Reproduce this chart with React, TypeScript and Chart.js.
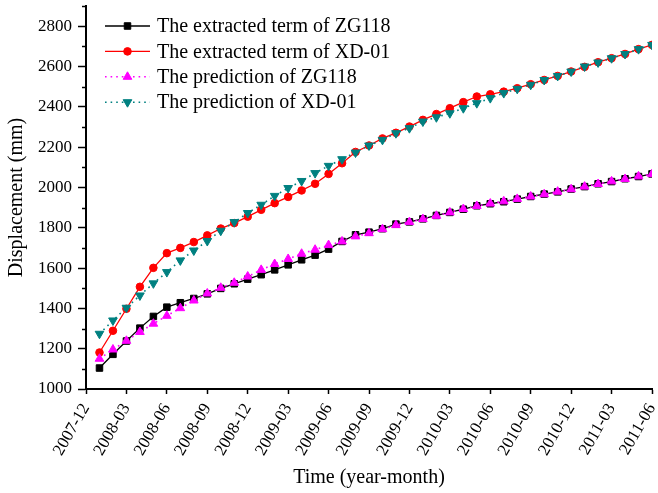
import React, { useEffect, useRef } from "react";
import { Chart, registerables } from "chart.js";

Chart.register(...registerables);

// Tick labels every 3 months, starting 2007-12 (x = 0)
const tickLabels = [
  "2007-12", "2008-03", "2008-06", "2008-09", "2008-12", "2009-03", "2009-06", "2009-09",
  "2009-12", "2010-03", "2010-06", "2010-09", "2010-12", "2011-03", "2011-06",
];

// Monthly observations 2008-01 .. 2011-06 (x = 1 .. 42)
const months = [
  "2008-01", "2008-02", "2008-03", "2008-04", "2008-05", "2008-06", "2008-07", "2008-08", "2008-09", "2008-10", "2008-11", "2008-12",
  "2009-01", "2009-02", "2009-03", "2009-04", "2009-05", "2009-06", "2009-07", "2009-08", "2009-09", "2009-10", "2009-11", "2009-12",
  "2010-01", "2010-02", "2010-03", "2010-04", "2010-05", "2010-06", "2010-07", "2010-08", "2010-09", "2010-10", "2010-11", "2010-12",
  "2011-01", "2011-02", "2011-03", "2011-04", "2011-05", "2011-06",
];

const extractedZG118 = [
  1104, 1172, 1238, 1302, 1360, 1406, 1428, 1449, 1472, 1499, 1522, 1545,
  1567, 1591, 1616, 1641, 1664, 1694, 1732, 1765, 1778, 1795, 1818, 1829,
  1844, 1861, 1876, 1892, 1909, 1919, 1929, 1942, 1955, 1967, 1978, 1992,
  2004, 2018, 2029, 2043, 2054, 2067,
];

const extractedXD01 = [
  1181, 1289, 1398, 1507, 1601, 1674, 1700, 1729, 1762, 1796, 1823, 1855,
  1889, 1922, 1953, 1985, 2018, 2067, 2120, 2176, 2208, 2243, 2271, 2302,
  2335, 2364, 2393, 2423, 2451, 2462, 2475, 2492, 2512, 2533, 2553, 2575,
  2598, 2621, 2641, 2662, 2686, 2707,
];

const predictionZG118 = [
  1150, 1196, 1239, 1283, 1324, 1363, 1401, 1439, 1474, 1502, 1527, 1558,
  1591, 1620, 1645, 1671, 1691, 1714, 1732, 1757, 1773, 1793, 1813, 1828,
  1843, 1859, 1876, 1893, 1908, 1920, 1931, 1943, 1955, 1966, 1979, 1991,
  2004, 2017, 2030, 2042, 2055, 2066,
];

const predictionXD01 = [
  1274, 1340, 1403, 1464, 1524, 1580, 1638, 1687, 1734, 1785, 1828, 1873,
  1914, 1958, 1997, 2032, 2071, 2107, 2140, 2173, 2208, 2236, 2269, 2294,
  2327, 2348, 2368, 2393, 2418, 2443, 2468, 2489, 2509, 2533, 2553, 2575,
  2600, 2620, 2641, 2662, 2686, 2707,
];

const seriesNames = [
  "The extracted term of ZG118",
  "The extracted term of XD-01",
  "The prediction of ZG118",
  "The prediction of XD-01",
];

const FONT = "'Liberation Serif', 'Times New Roman', serif";

function toPoints(values: number[]) {
  return values.map((v, i) => ({ x: months.indexOf(months[i]) + 1, y: v }));
}

function drawMarker(
  ctx: CanvasRenderingContext2D,
  style: string,
  x: number,
  y: number,
  r: number,
  rotation: number,
  color: string
) {
  ctx.save();
  ctx.fillStyle = color;
  ctx.strokeStyle = color;
  ctx.lineWidth = 1;
  ctx.setLineDash([]);
  ctx.beginPath();
  if (style === "rect") {
    const s = Math.SQRT1_2 * r;
    ctx.rect(x - s, y - s, 2 * s, 2 * s);
  } else if (style === "circle") {
    ctx.arc(x, y, r, 0, Math.PI * 2);
  } else if (style === "triangle") {
    let rad = (rotation * Math.PI) / 180;
    ctx.moveTo(x + Math.sin(rad) * r, y - Math.cos(rad) * r);
    rad += (2 * Math.PI) / 3;
    ctx.lineTo(x + Math.sin(rad) * r, y - Math.cos(rad) * r);
    rad += (2 * Math.PI) / 3;
    ctx.lineTo(x + Math.sin(rad) * r, y - Math.cos(rad) * r);
    ctx.closePath();
  }
  ctx.fill();
  ctx.stroke();
  ctx.restore();
}

const legendPlugin = {
  id: "customLegend",
  afterDraw(chart: any) {
    const ctx: CanvasRenderingContext2D = chart.ctx;
    const left = 105;
    const top = 26;
    const rowH = 25.4;
    const lineLen = 45;
    ctx.save();
    chart.data.datasets.forEach((ds: any, i: number) => {
      const y = top + i * rowH;
      ctx.strokeStyle = ds.borderColor;
      ctx.lineWidth = ds.borderWidth;
      ctx.setLineDash(ds.borderDash || []);
      ctx.beginPath();
      ctx.moveTo(left, y);
      ctx.lineTo(left + lineLen, y);
      ctx.stroke();
      ctx.setLineDash([]);
      drawMarker(ctx, ds.pointStyle, left + lineLen / 2, y, ds.pointRadius, ds.pointRotation || 0, ds.backgroundColor);
      ctx.fillStyle = "#000";
      ctx.font = `20px ${FONT}`;
      ctx.textAlign = "left";
      ctx.textBaseline = "middle";
      ctx.fillText(ds.label, left + lineLen + 7, y + 1);
    });
    ctx.restore();
  },
};

const minorTickPlugin = {
  id: "minorTicks",
  afterDraw(chart: any) {
    const ctx: CanvasRenderingContext2D = chart.ctx;
    const y = chart.scales.y;
    const left = chart.chartArea.left;
    ctx.save();
    ctx.strokeStyle = "#000";
    ctx.lineWidth = 1.5;
    for (let v = 1100; v <= 2900; v += 200) {
      const py = Math.round(y.getPixelForValue(v)) + 0.5;
      ctx.beginPath();
      ctx.moveTo(left - 4, py);
      ctx.lineTo(left, py);
      ctx.stroke();
    }
    ctx.restore();
  },
};

export default function App() {
  const canvasRef = useRef<HTMLCanvasElement | null>(null);

  useEffect(() => {
    if (!canvasRef.current) return;
    Chart.defaults.font.family = FONT;
    Chart.defaults.color = "#000";
    const chart = new Chart(canvasRef.current, {
      type: "line",
      data: {
        datasets: [
          {
            label: seriesNames[0],
            data: toPoints(extractedZG118),
            borderColor: "#000000",
            backgroundColor: "#000000",
            borderWidth: 1.3,
            pointStyle: "rect",
            pointRadius: 4.6,
            pointBorderWidth: 1,
            order: 3,
          },
          {
            label: seriesNames[1],
            data: toPoints(extractedXD01),
            borderColor: "#FF0000",
            backgroundColor: "#FF0000",
            borderWidth: 1.3,
            pointStyle: "circle",
            pointRadius: 3.8,
            pointBorderWidth: 1,
            order: 2,
          },
          {
            label: seriesNames[2],
            data: toPoints(predictionZG118),
            borderColor: "#FF00FF",
            backgroundColor: "#FF00FF",
            borderWidth: 1.6,
            borderDash: [1.6, 4],
            pointStyle: "triangle",
            pointRadius: 5,
            pointBorderWidth: 1,
            order: 1,
          },
          {
            label: seriesNames[3],
            data: toPoints(predictionXD01),
            borderColor: "#008080",
            backgroundColor: "#008080",
            borderWidth: 1.6,
            borderDash: [1.6, 4],
            pointStyle: "triangle",
            pointRotation: 180,
            pointRadius: 5,
            pointBorderWidth: 1,
            order: 0,
          },
        ] as any,
      },
      options: {
        animation: false,
        responsive: false,
        devicePixelRatio: 1,
        layout: { padding: { top: 6, right: 4, left: 0, bottom: 0 } },
        plugins: {
          legend: { display: false },
          tooltip: { enabled: false },
        },
        scales: {
          x: {
            type: "linear",
            min: 0,
            max: 42,
            ticks: {
              stepSize: 3,
              autoSkip: false,
              minRotation: 60,
              maxRotation: 60,
              padding: 6,
              color: "#000",
              font: { size: 17, family: FONT },
              callback: (value: any) => tickLabels[Math.round(Number(value) / 3)] ?? "",
            },
            grid: {
              drawOnChartArea: false,
              drawTicks: true,
              tickLength: 5,
              color: "#000",
              tickWidth: 1.5,
            },
            border: { display: true, color: "#000", width: 2 },
            title: {
              display: true,
              text: "Time (year-month)",
              color: "#000",
              font: { size: 20, family: FONT },
              padding: { top: 0, bottom: 3 },
            },
            afterFit: (scale: any) => {
              scale.height = 104;
              scale.paddingLeft = 0;
              scale.paddingRight = 0;
            },
          },
          y: {
            type: "linear",
            min: 1000,
            max: 2900,
            ticks: {
              stepSize: 200,
              includeBounds: false,
              padding: 6,
              color: "#000",
              font: { size: 17, family: FONT },
              callback: (value: any) => String(value),
            },
            grid: {
              drawOnChartArea: false,
              drawTicks: true,
              tickLength: 8,
              color: "#000",
              tickWidth: 1.5,
            },
            border: { display: true, color: "#000", width: 2 },
            title: {
              display: true,
              text: "Displacement (mm)",
              color: "#000",
              font: { size: 20, family: FONT },
              padding: { top: 5, bottom: 0 },
            },
            afterFit: (scale: any) => {
              scale.width = 86;
              scale.paddingTop = 0;
              scale.paddingBottom = 0;
            },
          },
        },
      } as any,
      plugins: [minorTickPlugin, legendPlugin],
    });
    return () => chart.destroy();
  }, []);

  return (
    <div style={{ position: "absolute", left: 0, top: 0, width: 658, height: 493, background: "#fff" }}>
      <canvas ref={canvasRef} width={658} height={493} style={{ width: 658, height: 493, display: "block" }} />
    </div>
  );
}
